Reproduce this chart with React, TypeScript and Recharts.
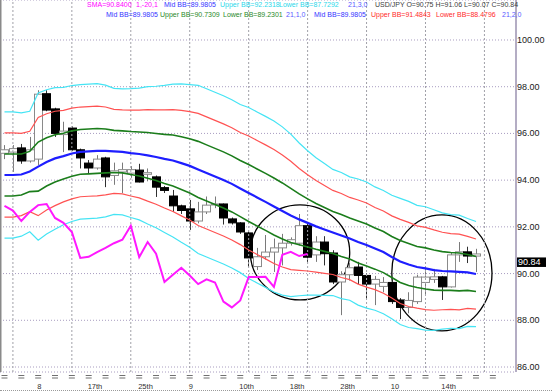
import React from 'react';
import { ComposedChart, Bar, Line, XAxis, YAxis, CartesianGrid, ReferenceLine, ReferenceArea } from 'recharts';

// ---- candle data (USD/JPY) ----
const opens = [95.15, 95.2, 95.38, 94.82, 94.9, 97.7, 97.05, 95.95, 96.23, 95.3, 94.73, 94.52, 94.95, 94.2, 94.35, 94.3, 94.43, 94.25, 94.14, 93.68, 93.32, 92.9, 92.77, 92.25, 92.64, 92.95, 92.98, 92.34, 92.17, 91.74, 90.3, 90.72, 90.92, 91.1, 91.3, 91.3, 92.05, 90.8, 91.35, 90.88, 89.64, 89.95, 90.28, 89.92, 89.55, 89.45, 89.62, 88.87, 88.55, 88.8, 89.62, 89.75, 89.86, 89.43, 90.8, 90.93, 90.75];
const highs = [95.5, 95.5, 95.55, 95.85, 97.85, 97.85, 97.1, 96.5, 96.3, 95.35, 94.86, 95.07, 95.0, 94.75, 94.75, 94.6, 94.7, 94.5, 94.2, 93.75, 93.58, 92.95, 93.15, 93.07, 93.3, 93.3, 93.0, 92.4, 92.2, 91.8, 91.1, 91.65, 91.5, 91.7, 91.55, 92.55, 92.15, 91.6, 91.6, 91.0, 90.1, 90.45, 90.5, 90.0, 89.9, 89.85, 89.7, 88.95, 89.2, 89.95, 90.25, 90.2, 89.9, 90.9, 91.35, 91.15, 91.06];
const lows = [94.9, 94.35, 94.7, 94.75, 94.65, 96.95, 95.85, 95.2, 95.25, 94.5, 94.26, 94.45, 93.7, 93.8, 93.45, 94.1, 93.9, 93.95, 93.28, 93.45, 92.64, 92.55, 91.87, 92.15, 92.55, 92.8, 92.1, 92.1, 91.7, 90.28, 90.15, 90.6, 90.07, 90.35, 91.2, 91.2, 90.5, 90.5, 90.35, 89.55, 88.22, 89.7, 89.55, 88.9, 88.65, 89.2, 88.7, 88.05, 88.3, 88.7, 89.1, 89.6, 88.87, 89.4, 90.5, 90.45, 90.07];
const closes = [95.3, 95.35, 94.82, 95.3, 97.68, 97.0, 96.0, 96.1, 95.3, 94.95, 94.52, 94.9, 94.14, 94.4, 94.45, 94.45, 93.92, 94.32, 93.7, 93.56, 92.9, 92.7, 92.25, 92.64, 92.93, 92.98, 92.38, 92.17, 91.78, 90.67, 90.72, 90.92, 91.1, 91.3, 91.45, 92.05, 90.7, 91.35, 90.85, 89.64, 89.95, 90.25, 89.92, 89.55, 89.75, 89.62, 88.8, 88.55, 88.85, 89.85, 89.85, 89.86, 89.43, 90.8, 90.93, 90.75, 90.84];

// ---- Bollinger (21) middle line and one standard deviation ----
const midBB = [94.22, 94.22, 94.24, 94.37, 94.58, 94.78, 94.93, 95.03, 95.14, 95.21, 95.23, 95.25, 95.25, 95.23, 95.21, 95.16, 95.12, 95.06, 94.99, 94.91, 94.84, 94.73, 94.61, 94.46, 94.31, 94.16, 94.01, 93.84, 93.64, 93.45, 93.26, 93.07, 92.87, 92.68, 92.49, 92.32, 92.17, 92.02, 91.89, 91.76, 91.63, 91.5, 91.35, 91.22, 91.07, 90.92, 90.71, 90.52, 90.39, 90.28, 90.22, 90.15, 90.11, 90.09, 90.07, 90.05, 89.98];
const sdBB = [0.9, 0.9, 0.88, 0.86, 1.05, 1.03, 1.01, 0.98, 0.97, 0.96, 0.96, 0.96, 0.94, 0.9, 0.9, 0.92, 0.94, 0.98, 1.01, 1.05, 1.09, 1.13, 1.16, 1.2, 1.2, 1.2, 1.2, 1.2, 1.2, 1.22, 1.22, 1.22, 1.22, 1.2, 1.16, 1.09, 1.03, 0.98, 0.94, 0.9, 0.9, 0.88, 0.9, 0.9, 0.88, 0.88, 0.88, 0.9, 0.9, 0.88, 0.88, 0.86, 0.83, 0.81, 0.81, 0.77, 0.75];

// SMA(1) displaced -20 bars
const lagShift = 20;

// ---- axes ----
const priceTicks = [86, 88, 90, 92, 94, 96, 98, 100];
const axisTickIdx = [0, 2, 4, 6, 8, 10, 12, 14, 16, 18, 20, 22, 24, 26, 28, 30, 32, 34, 36, 38, 40, 42, 44, 46, 48, 50, 52, 54, 56, 58];
const dateLabelIdx = [4, 10, 16, 22, 28, 34, 40, 46, 52];
const dateLabels = ['8', '17th', '25th', '9', '10th', '18th', '28th', '10', '14th'];
const weekLineIdx = [1, 8, 15, 22, 29, 36, 43, 50, 57];
const lastClose = 90.84;

// ---- annotation circles (index / price extents) ----
const circleX1 = [29.2, 46.0];
const circleX2 = [41.0, 57.9];
const circleY1 = [88.87, 87.55];
const circleY2 = [92.94, 92.51];

// ---- legend texts ----
const legendRow1 = ['SMA=90.8400', '1,-20,1', 'Mid BB=89.9805', 'Upper BB=92.2318', 'Lower BB=87.7292', '21,3,0', 'USD/JPY O=90.75 H=91.06 L=90.07 C=90.84'];
const legendRow1X = [87, 136, 164, 220, 279, 348, 375];
const legendRow1C = ['#ff00ff', '#ff00ff', '#3535ff', '#2cd8ea', '#2cd8ea', '#5a5aff', '#404040'];
const legendRow2 = ['Mid BB=89.9805', 'Upper BB=90.7309', 'Lower BB=89.2301', '21,1,0', 'Mid BB=89.9805', 'Upper BB=91.4843', 'Lower BB=88.4796', '21,2,0'];
const legendRow2X = [106, 160, 223, 286, 314, 371, 436, 502];
const legendRow2C = ['#3535ff', '#2a8a2a', '#2a8a2a', '#5a5aff', '#3535ff', '#ff2a2a', '#ff2a2a', '#5a5aff'];

const data = closes.map((c, i) => ({
  idx: i,
  range: [lows[i], highs[i]],
  o: opens[i],
  c,
  hi: highs[i],
  lo: lows[i],
  mid: midBB[i],
  up1: midBB[i] + sdBB[i],
  lo1: midBB[i] - sdBB[i],
  up2: midBB[i] + 2 * sdBB[i],
  lo2: midBB[i] - 2 * sdBB[i],
  up3: midBB[i] + 3 * sdBB[i],
  lo3: midBB[i] - 3 * sdBB[i],
  lag: i + lagShift < closes.length ? closes[i + lagShift] : null,
}));

const Candle = (props: any) => {
  const { x, y, width, height, payload } = props;
  if (x == null || y == null || !payload) return null;
  const top = Math.min(y, y + height);
  const h = Math.abs(height);
  const span = payload.hi - payload.lo;
  const toY = (p: number) => (span > 0 ? top + ((payload.hi - p) / span) * h : top);
  const cx = Math.round(x + width / 2) + 0.5;
  const yo = toY(payload.o);
  const yc = toY(payload.c);
  const up = payload.c >= payload.o;
  const bodyTop = Math.min(yo, yc);
  const bodyH = Math.max(Math.abs(yc - yo), 1);
  return (
    <g>
      <line x1={cx} x2={cx} y1={top} y2={top + h} stroke={up ? '#7a7a7a' : '#303030'} strokeWidth={1} />
      <rect x={cx - 4} y={bodyTop} width={8} height={bodyH} fill={up ? '#ffffff' : '#000000'} stroke={up ? '#8a8a8a' : '#000000'} strokeWidth={1} />
    </g>
  );
};

const DateTick = (props: any) => {
  const { x, y, payload } = props;
  const k = dateLabelIdx.indexOf(payload.value);
  return (
    <g>
      <line x1={x - 3} x2={x + 3} y1={y + 3.5} y2={y + 3.5} stroke="#707070" strokeWidth={1} />
      <line x1={x - 3} x2={x + 3} y1={y + 6} y2={y + 6} stroke="#707070" strokeWidth={1} />
      {k >= 0 && (
        <text x={x - 1} y={y + 17} fontSize={7.5} fill="#303030" textAnchor="start">
          {dateLabels[k]}
        </text>
      )}
    </g>
  );
};

const PriceTick = (props: any) => {
  const { x, y, payload } = props;
  return (
    <text x={x} y={y + 3} fontSize={9} fill="#202020" textAnchor="start">
      {Number(payload.value).toFixed(2)}
    </text>
  );
};

const PriceTag = (props: any) => {
  const vb = props.viewBox || {};
  const x0 = (vb.x || 0) + (vb.width || 0) + 1;
  const y0 = (vb.y || 0) + 3.5;
  return (
    <g>
      <rect x={x0} y={y0} width={29} height={9.5} fill="#000000" />
      <text x={x0 + 1} y={y0 + 8} fontSize={9} fill="#ffffff" textAnchor="start">
        {lastClose.toFixed(2)}
      </text>
    </g>
  );
};

const Ellipse = (props: any) => {
  const { x, y, width, height } = props;
  return (
    <ellipse cx={x + width / 2} cy={y + height / 2} rx={Math.abs(width) / 2} ry={Math.abs(height) / 2} fill="none" stroke="#000000" strokeWidth={1.3} />
  );
};

const lineProps = { dot: false, activeDot: false, isAnimationActive: false, type: 'linear' as const };

export default function App() {
  const font = '"Liberation Sans", Arial, sans-serif';
  return (
    <div style={{ position: 'absolute', left: 0, top: 0, width: 552, height: 392, background: '#ffffff', fontFamily: font }}>
      <ComposedChart width={552} height={392} data={data} margin={{ top: 0, right: 0, bottom: 0, left: 0 }} style={{ fontFamily: font }}>
        <CartesianGrid horizontal={true} vertical={false} stroke="#a89cc0" strokeDasharray="1 2" />
        <CartesianGrid horizontal={false} vertical={true} verticalPoints={[0.75]} stroke="#8a8a8a" strokeWidth={1.5} />
        <XAxis
          dataKey="idx"
          type="number"
          domain={[-0.534, 60.75]}
          allowDataOverflow
          ticks={axisTickIdx}
          interval={0}
          axisLine={false}
          tickLine={false}
          tickSize={0}
          tickMargin={0}
          height={20}
          tick={<DateTick />}
        />
        <YAxis
          orientation="right"
          domain={[85.786, 101.712]}
          allowDataOverflow
          ticks={priceTicks}
          interval={0}
          width={36}
          axisLine={{ stroke: '#b4adc4', strokeWidth: 2 }}
          tickLine={false}
          tickSize={0}
          tickMargin={1}
          tick={<PriceTick />}
        />
        {weekLineIdx.map((v) => (
          <ReferenceLine key={'w' + v} x={v} stroke="#a0a0a8" strokeDasharray="2 2" />
        ))}
        <Line dataKey="up3" stroke="#45e4f4" strokeWidth={1.2} {...lineProps} />
        <Line dataKey="lo3" stroke="#45e4f4" strokeWidth={1.2} {...lineProps} />
        <Line dataKey="up2" stroke="#ff5252" strokeWidth={1.2} {...lineProps} />
        <Line dataKey="lo2" stroke="#ff5252" strokeWidth={1.2} {...lineProps} />
        <Line dataKey="up1" stroke="#1b7d1b" strokeWidth={1.6} {...lineProps} />
        <Line dataKey="lo1" stroke="#1b7d1b" strokeWidth={1.6} {...lineProps} />
        <Line dataKey="mid" stroke="#1e1eff" strokeWidth={2.2} {...lineProps} />
        <Line dataKey="lag" stroke="#ff18ff" strokeWidth={2} connectNulls={false} {...lineProps} />
        <Bar dataKey="range" barSize={8} shape={<Candle />} activeBar={false} isAnimationActive={false} />
        {circleX1.map((_, k) => (
          <ReferenceArea key={'c' + k} x1={circleX1[k]} x2={circleX2[k]} y1={circleY1[k]} y2={circleY2[k]} ifOverflow="visible" shape={<Ellipse />} />
        ))}
        <ReferenceLine y={lastClose} stroke="none" label={<PriceTag />} />
      </ComposedChart>
      {legendRow1.map((t, k) => (
        <div key={'l1' + k} style={{ position: 'absolute', left: legendRow1X[k], top: 0, fontSize: 7, lineHeight: '10px', color: legendRow1C[k], whiteSpace: 'nowrap' }}>
          {t}
        </div>
      ))}
      {legendRow2.map((t, k) => (
        <div key={'l2' + k} style={{ position: 'absolute', left: legendRow2X[k], top: 10, fontSize: 7, lineHeight: '10px', color: legendRow2C[k], whiteSpace: 'nowrap' }}>
          {t}
        </div>
      ))}
      <div style={{ position: 'absolute', left: 0, top: 390, width: 552, height: 0, borderTop: '1px dotted #9a9a9a' }} />
    </div>
  );
}
